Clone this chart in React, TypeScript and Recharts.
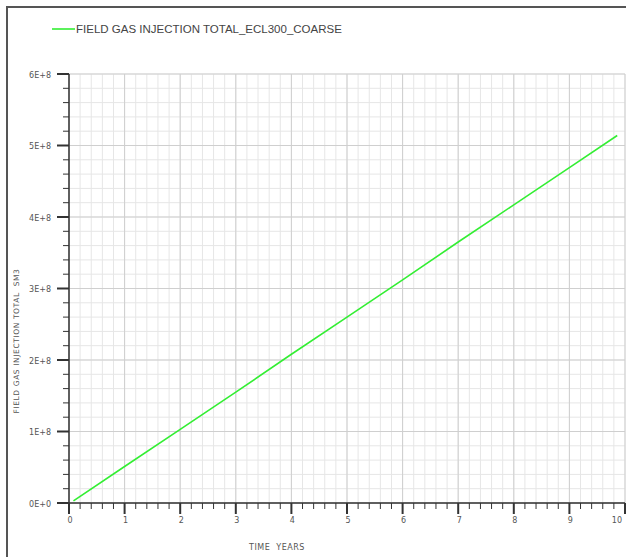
import React from 'react';
import { LineChart, Line, XAxis, YAxis, CartesianGrid } from 'recharts';

// ---- data ----
const timeYears = [0.08, 1, 2, 3, 4, 5, 6, 7, 8, 9, 9.86];
const gasInjectionTotal = [3e6, 5.1e7, 1.03e8, 1.55e8, 2.08e8, 2.6e8, 3.12e8, 3.65e8, 4.17e8, 4.69e8, 5.14e8];
const seriesName = 'FIELD GAS INJECTION TOTAL_ECL300_COARSE';
const xMajorTicks = [0, 1, 2, 3, 4, 5, 6, 7, 8, 9, 10];
const xTickLabels = ['0', '1', '2', '3', '4', '5', '6', '7', '8', '9', '10'];
const yMajorTicks = [0, 1e8, 2e8, 3e8, 4e8, 5e8, 6e8];
const yTickLabels = ['0E+0', '1E+8', '2E+8', '3E+8', '4E+8', '5E+8', '6E+8'];
const xTitle = 'TIME  YEARS';
const yTitle = 'FIELD GAS INJECTION TOTAL  SM3';

const data = timeYears.map((t, i) => ({ t, v: gasInjectionTotal[i] }));

// minor subdivisions (5 per major interval)
const subdivide = (majors: number[]) => {
  const out: number[] = [];
  for (let i = 0; i < majors.length - 1; i++) {
    const a = majors[i];
    const b = majors[i + 1];
    for (let k = 0; k < 5; k++) out.push(a + ((b - a) * k) / 5);
  }
  out.push(majors[majors.length - 1]);
  return out;
};
const xAllTicks = subdivide(xMajorTicks);
const yAllTicks = subdivide(yMajorTicks);

const near = (a: number, b: number, tol: number) => Math.abs(a - b) < tol;

const FONT = '"DejaVu Sans", sans-serif';
const AXIS = '#333';
const TXT = '#555';

const XTick = (props: any) => {
  const { x, y, payload } = props;
  const v = payload.value as number;
  const idx = xMajorTicks.findIndex((m) => near(m, v, 1e-6));
  const major = idx >= 0;
  const isLast = idx === xMajorTicks.length - 1;
  return (
    <g>
      <line x1={x} x2={x} y1={y} y2={y + (major ? 11 : 6)} stroke={AXIS} strokeWidth={major ? 2 : 1} />
      {major && (
        <text
          x={isLast ? x - 3 : x + 1}
          y={y + 20}
          textAnchor={isLast ? 'end' : 'middle'}
          fontFamily={FONT}
          fontSize={8}
          fill={TXT}
        >
          {xTickLabels[idx]}
        </text>
      )}
    </g>
  );
};

const YTick = (props: any) => {
  const { x, y, payload } = props;
  const v = payload.value as number;
  const idx = yMajorTicks.findIndex((m) => near(m, v, 1));
  const major = idx >= 0;
  return (
    <g>
      <line x1={x - (major ? 12 : 6)} x2={x} y1={y} y2={y} stroke={AXIS} strokeWidth={major ? 2 : 1} />
      {major && (
        <text x={x - 18} y={y + 3.5} textAnchor="end" fontFamily={FONT} fontSize={8} fill={TXT}>
          {yTickLabels[idx]}
        </text>
      )}
    </g>
  );
};

export default function App() {
  return (
    <div
      style={{
        position: 'absolute',
        left: 0,
        top: 0,
        width: 626,
        height: 557,
        overflow: 'hidden',
        background: '#fff',
      }}
    >
      <div
        style={{
          position: 'absolute',
          left: 6,
          top: 6,
          width: 800,
          height: 800,
          border: '2px solid #555',
          boxSizing: 'border-box',
        }}
      />
      <div style={{ position: 'absolute', left: 0, top: 0 }}>
        <LineChart width={626} height={557} data={data} margin={{ top: 74, right: 1, bottom: 0, left: 0 }}>
          <CartesianGrid stroke="#e6e6e6" strokeWidth={1} />
          <CartesianGrid
            stroke="#cfcfcf"
            strokeWidth={1}
            verticalValues={xMajorTicks}
            horizontalValues={yMajorTicks}
          />
          <XAxis
            dataKey="t"
            type="number"
            domain={[0, 10]}
            ticks={xAllTicks}
            interval={0}
            height={54}
            tickSize={0}
            tickMargin={0}
            tickLine={false}
            tick={<XTick />}
            axisLine={{ stroke: AXIS, strokeWidth: 1.5 }}
            allowDataOverflow
          />
          <YAxis
            type="number"
            domain={[0, 6e8]}
            ticks={yAllTicks}
            interval={0}
            width={69}
            tickSize={0}
            tickMargin={0}
            tickLine={false}
            tick={<YTick />}
            axisLine={{ stroke: AXIS, strokeWidth: 1.5 }}
            allowDataOverflow
          />
          <Line
            dataKey="v"
            type="linear"
            stroke="#33ee33"
            strokeWidth={1.6}
            dot={false}
            isAnimationActive={false}
          />
        </LineChart>
      </div>
      <svg
        width={626}
        height={557}
        style={{ position: 'absolute', left: 0, top: 0, pointerEvents: 'none' }}
      >
        <line x1={52} x2={75} y1={29} y2={29} stroke="#33ee33" strokeWidth={1.6} />
        <text x={76} y={33} fontFamily='"Liberation Sans", Arial, sans-serif' fontSize={11.5} fill="#444">
          {seriesName}
        </text>
        <text
          x={277}
          y={550}
          textAnchor="middle"
          fontFamily={FONT}
          fontSize={8}
          letterSpacing={0.5}
          fill={TXT}
          style={{ whiteSpace: 'pre' }}
        >
          {xTitle}
        </text>
        <text
          x={0}
          y={0}
          transform="translate(19 341) rotate(-90)"
          textAnchor="middle"
          fontFamily={FONT}
          fontSize={7.5}
          letterSpacing={0.6}
          fill={TXT}
          style={{ whiteSpace: 'pre' }}
        >
          {yTitle}
        </text>
      </svg>
    </div>
  );
}
